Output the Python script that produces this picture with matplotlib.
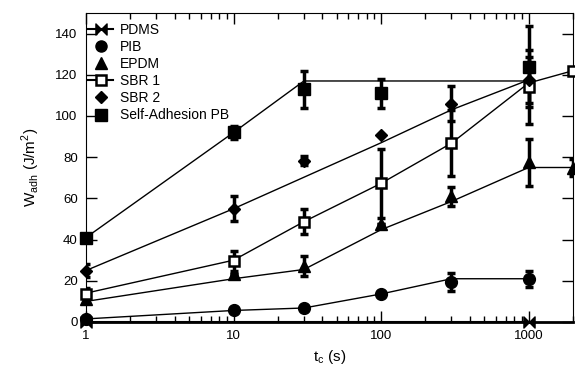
import numpy as np
from matplotlib import pyplot as plt
from matplotlib.path import Path
from matplotlib.lines import Line2D

plt.rcParams['font.family'] = ['Liberation Sans', 'DejaVu Sans']

# measured points (contact time in s, W_adh in J/m^2, error)
pdms_t = [1, 1000]
pdms_w = [0, 0]

pib_t = [1, 10, 30, 100, 300, 1000]
pib_w = [1.5, 5.6, 6.8, 13.6, 19.5, 21]
pib_err = [0, 0, 0, 0, 4.5, 3.8]

epdm_t = [1, 10, 30, 100, 300, 1000, 2000]
epdm_w = [11, 23.5, 27, 47.5, 61, 77.5, 75]
epdm_err = [0, 0, 4.8, 0, 4.5, 11.5, 4]

sbr1_t = [1, 10, 30, 100, 300, 1000, 2000]
sbr1_w = [13.5, 29.5, 48.7, 67.3, 86.8, 114, 122]
sbr1_err = [3, 4.8, 6, 16.8, 16, 18, 0]

sbr2_t = [1, 10, 30, 100, 300, 1000]
sbr2_w = [25, 55, 78.3, 91, 106, 117.5]
sbr2_err = [3, 6, 2.3, 0, 8.5, 11]

pb_t = [1, 10, 30, 100, 1000]
pb_w = [41, 92, 113, 111, 124]
pb_err = [0, 3, 9, 7, 19.5]

# model curves drawn through the data
pib_line_t = [1, 10, 30, 100, 300, 1000]
pib_line_w = [1.5, 5.6, 6.8, 13.6, 21, 21]
epdm_line_t = [1, 10, 30, 100, 300, 1000, 2000]
epdm_line_w = [10, 21, 25.5, 44.8, 58.5, 75, 75]
sbr1_line_t = [1, 10, 30, 100, 300, 1000, 2000]
sbr1_line_w = [14, 30, 48.7, 67.3, 86.8, 116, 122]
sbr2_line_t = [1, 10, 100, 300, 1000]
sbr2_line_w = [25, 55, 87, 103, 117.5]
pb_line_t = [1, 10, 30, 1000]
pb_line_w = [41, 92, 117, 117]

bowtie = Path([(-1, -1), (0, 0), (-1, 1), (-1, -1), (1, -1), (0, 0), (1, 1), (1, -1)],
              [Path.MOVETO, Path.LINETO, Path.LINETO, Path.CLOSEPOLY,
               Path.MOVETO, Path.LINETO, Path.LINETO, Path.CLOSEPOLY])

fig = plt.figure(figsize=(5.75, 3.71), dpi=100)
ax = fig.add_axes([86 / 575, 49 / 371, 487 / 575, 309 / 371])

for lt, lw_ in [(pib_line_t, pib_line_w), (epdm_line_t, epdm_line_w),
                (sbr1_line_t, sbr1_line_w), (sbr2_line_t, sbr2_line_w),
                (pb_line_t, pb_line_w)]:
    ax.plot(lt, lw_, color='k', lw=1, zorder=2)
ax.plot(pdms_t, pdms_w, color='k', lw=1.5, zorder=2)

eb = dict(fmt='none', ecolor='k', elinewidth=2.5, capsize=3, capthick=2.5, zorder=3)
ax.errorbar(pib_t, pib_w, yerr=pib_err, **eb)
ax.errorbar(epdm_t, epdm_w, yerr=epdm_err, **eb)
ax.errorbar(sbr1_t, sbr1_w, yerr=sbr1_err, **eb)
ax.errorbar(sbr2_t, sbr2_w, yerr=sbr2_err, **eb)
ax.errorbar(pb_t, pb_w, yerr=pb_err, **eb)

mk = dict(ls='none', color='k', zorder=4, clip_on=False)
ax.plot(pdms_t, pdms_w, marker=bowtie, ms=8, **mk)
ax.plot(pib_t, pib_w, marker='o', ms=8.5, **mk)
ax.plot(epdm_t, epdm_w, marker='^', ms=8.5, **mk)
ax.plot(sbr1_t, sbr1_w, marker='s', ms=7, mfc='white', mew=1.8, **mk)
ax.plot(sbr2_t, sbr2_w, marker='D', ms=6.5, **mk)
ax.plot(pb_t, pb_w, marker='s', ms=8.5, **mk)

ax.set_xscale('log')
ax.set_xlim(1, 2000)
ax.set_ylim(0, 150)
ax.set_yticks([0, 20, 40, 60, 80, 100, 120, 140])
ax.set_xticks([1, 10, 100, 1000])
ax.set_xticklabels(['1', '10', '100', '1000'])
ax.tick_params(which='major', direction='in', top=True, right=True,
               length=8, width=1, labelsize=9.5, pad=6)
ax.tick_params(which='minor', direction='in', top=True, right=True,
               length=4, width=1)
ax.tick_params(axis='y', which='minor', left=False, right=False)
ax.spines['bottom'].set_linewidth(2)

ax.set_xlabel('t$_\\mathregular{c}$ (s)', fontsize=11, labelpad=4)
ax.set_ylabel('W$_\\mathregular{adh}$ (J/m$^\\mathregular{2}$)', fontsize=11, labelpad=10)

handles = [
    Line2D([], [], color='k', lw=1.5, marker=bowtie, ms=8),
    Line2D([], [], color='k', ls='none', marker='o', ms=8),
    Line2D([], [], color='k', ls='none', marker='^', ms=8),
    Line2D([], [], color='k', lw=1.5, marker='s', ms=6.5, mfc='white', mew=1.8),
    Line2D([], [], color='k', ls='none', marker='D', ms=6),
    Line2D([], [], color='k', ls='none', marker='s', ms=8),
]
labels = ['PDMS', 'PIB', 'EPDM', 'SBR 1', 'SBR 2', 'Self-Adhesion PB']
ax.legend(handles, labels, loc='upper left', frameon=False, fontsize=10,
          handlelength=1.8, handletextpad=0.5, labelspacing=0.22,
          borderaxespad=0, borderpad=0.15, bbox_to_anchor=(0.0, 0.974))

fig.savefig('out.png', dpi=100)
